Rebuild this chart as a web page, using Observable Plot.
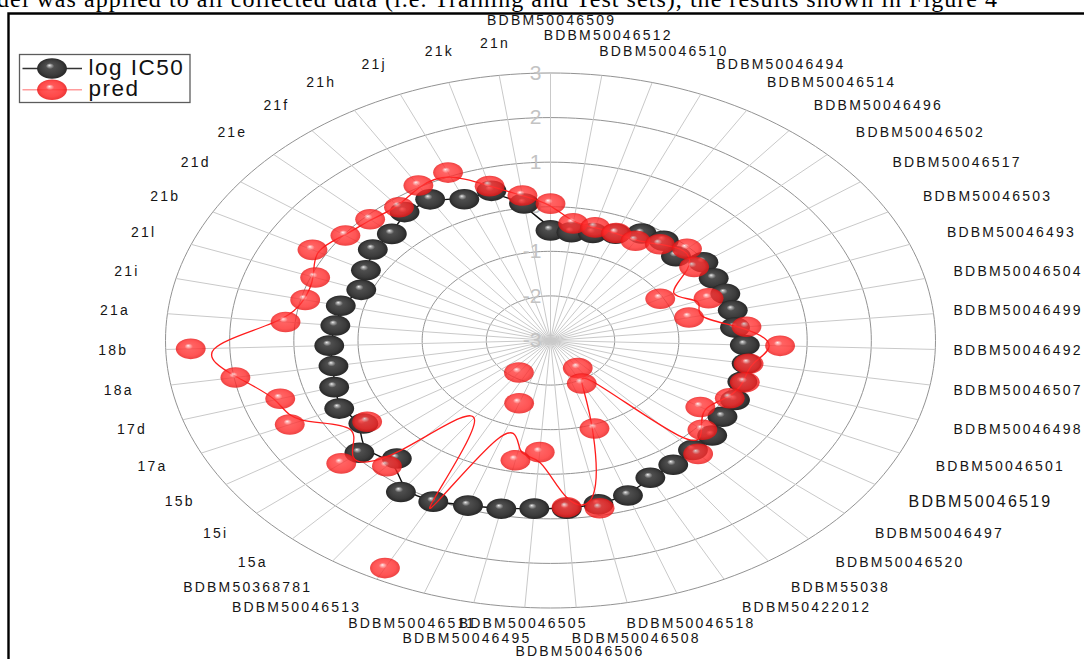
<!DOCTYPE html>
<html>
<head>
<meta charset="utf-8">
<script src="https://cdn.jsdelivr.net/npm/d3@7"></script>
<script src="https://cdn.jsdelivr.net/npm/@observablehq/plot@0.6"></script>
<style>
  html, body { margin: 0; padding: 0; background: #fff; }
  #wrap { position: relative; width: 1084px; height: 659px; overflow: hidden; background: #fff; }
  #chart svg { position: absolute; left: 0; top: 0; }
  #overlay { position: absolute; left: 0; top: 0; pointer-events: none; }
</style>
</head>
<body>
<div id="wrap"><div id="chart"></div><svg id="overlay" width="1084" height="659"></svg></div>
<script>
// Compounds, clockwise from the top of the radar
const compounds = [
  "BDBM50046509", "BDBM50046512", "BDBM50046510", "BDBM50046494", "BDBM50046514",
  "BDBM50046496", "BDBM50046502", "BDBM50046517", "BDBM50046503", "BDBM50046493",
  "BDBM50046504", "BDBM50046499", "BDBM50046492", "BDBM50046507", "BDBM50046498",
  "BDBM50046501", "BDBM50046519", "BDBM50046497", "BDBM50046520", "BDBM55038",
  "BDBM50422012", "BDBM50046518", "BDBM50046508", "BDBM50046506", "BDBM50046505",
  "BDBM50046495", "BDBM50046511", "BDBM50046513", "BDBM50368781", "15a",
  "15i", "15b", "17a", "17d", "18a",
  "18b", "21a", "21i", "21l", "21b",
  "21d", "21e", "21f", "21h", "21j",
  "21k", "21n"
];

// Experimental activity
const logIC50 = [
  -0.53, -0.55, -0.50, -0.40, -0.21, -0.15, -0.28, -0.04, -0.10, -0.08,
  -0.08, -0.11, 0.03, 0.10, 0.13, 0.17, 0.18, 0.30, 0.31, 0.38,
  0.45, 0.68, 0.75, 0.78, 0.78, 0.85, 0.92, 1.05, 1.12, 0.57,
  0.90, 0.46, 0.63, 0.53, 0.43, 0.45, 0.37, 0.36, 0.16, 0.28,
  0.44, 0.44, 0.67, 0.68, 0.44, 0.48, 0.10
];

// Model prediction
const pred = [
  0.07, -0.35, -0.37, -0.38, -0.40, -0.25, -0.04, -0.22, -1.05, -0.36,
  -0.78, 0.07, 0.58, 0.13, 0.17, 0.08, -0.23, 0.10, 0.43, -2.25,
  -1.92, -0.91, 0.84, 0.75, -0.49, -0.26, -1.51, 2.72, -2.13, 0.80,
  1.27, 0.39, 1.48, 1.41, 1.98, 2.61, 1.15, 0.93, 0.93, 1.23,
  0.97, 0.91, 0.81, 1.04, 1.09, 0.59, 0.28
];

const radialTicks = [3, 2, 1, 0, -1, -2, -3];
const seriesNames = ["log IC50", "pred"];

// ---- geometry: value -3 sits at the centre, value 3 on the outer ring
const N = compounds.length;
const OFFSET = 3, RMAX = 6;
const W = 1084, H = 659;
const CX = 550, CY = 340, RX = 385, RY = 267.5;
const KX = RX / RMAX, KY = RY / RMAX;
const angle = i => (2 * Math.PI * i) / N;
const toXY = (v, i) => ({x: (v + OFFSET) * Math.sin(angle(i)), y: (v + OFFSET) * Math.cos(angle(i))});

const obs = compounds.map((name, i) => ({name, value: logIC50[i], ...toXY(logIC50[i], i)}));
const prd = compounds.map((name, i) => ({name, value: pred[i], ...toXY(pred[i], i)}));

// rings, one per radial tick above the centre
const rings = [];
for (const t of radialTicks) {
  const r = t + OFFSET;
  if (r <= 0) continue;
  for (let k = 0; k < 240; k++) {
    const a = (2 * Math.PI * k) / 240;
    rings.push({ring: t, x: r * Math.sin(a), y: r * Math.cos(a)});
  }
}

const spokes = compounds.map((name, i) => ({name, x2: RMAX * Math.sin(angle(i)), y2: RMAX * Math.cos(angle(i))}));

// ---- compound labels around the rim, nudged apart where they would collide
const FONT = "'Liberation Sans', Arial, Helvetica, sans-serif";
const LABEL_RX = 6.62, LABEL_RY = 6.72, LS = 2.2;
const labelSize = name => name === "BDBM50046519" ? 16 : 14;
const mctx = document.createElement("canvas").getContext("2d");
const measure = (s, size) => { mctx.font = `${size}px ${FONT}`; return mctx.measureText(s).width + LS * (s.length - 1); };

// side labels first, then the crowded ones near the top and bottom
const order = d3.range(N).sort((a, b) => Math.abs(Math.sin(angle(b))) - Math.abs(Math.sin(angle(a))) || a - b);
const placed = [];
const labels = [];
for (const i of order) {
  const a = angle(i), s = Math.sin(a), c = Math.cos(a);
  const name = compounds[i], size = labelSize(name);
  const anchor = Math.abs(s) < 0.35 ? "middle" : s > 0 ? "start" : "end";
  const w = measure(name, size);
  let bx = CX + LABEL_RX * KX * s;
  const by = CY - LABEL_RY * KY * c;
  // keep the label inside the page
  const over = (anchor === "start" ? bx + w : anchor === "middle" ? bx + w / 2 : bx) - (W - 4);
  if (over > 0) bx -= over;
  const x0 = anchor === "start" ? bx : anchor === "end" ? bx - w : bx - w / 2;
  const out = c >= 0 ? -1 : 1;
  let dy = 0;
  for (const t of [0, 4, 8, 12, 16, 20, 24, -4, -8, -12, -16, -20, -24]) {
    const yy = by + out * t;
    const hit = placed.some(p => x0 + 8 < p.x1 - 8 && x0 + w - 8 > p.x0 + 8 && Math.abs(yy - p.y) < 12.5);
    if (!hit) { dy = out * t; break; }
  }
  placed.push({x0, x1: x0 + w, y: by + dy});
  // letter-spacing leaves a trailing gap after the last glyph; shift so the anchor sits on the glyphs
  const shift = anchor === "end" ? LS : anchor === "middle" ? LS / 2 : 0;
  labels.push({name, size, anchor, x: (bx - CX + shift) / KX, y: LABEL_RY * c - dy / KY});
}

// ---- ball-shaped marker (an ellipse, as the plot area is wider than tall)
const ASPECT = 1.45;
const ball = {
  draw(context, size) {
    const ry = Math.sqrt(size / Math.PI), rx = ry * ASPECT, k = 0.5523;
    context.moveTo(rx, 0);
    context.bezierCurveTo(rx, ry * k, rx * k, ry, 0, ry);
    context.bezierCurveTo(-rx * k, ry, -rx, ry * k, -rx, 0);
    context.bezierCurveTo(-rx, -ry * k, -rx * k, -ry, 0, -ry);
    context.bezierCurveTo(rx * k, -ry, rx, -ry * k, rx, 0);
    context.closePath();
  }
};
const BALL_R = 10.3;

const textMark = anchor => Plot.text(labels.filter(d => d.anchor === anchor), {
  x: "x", y: "y", text: "name", textAnchor: anchor, fontSize: "size",
  fontFamily: FONT, fill: "#151515"
});

const svg = Plot.plot({
  width: W,
  height: H,
  margin: 0,
  style: {background: "transparent", overflow: "visible"},
  x: {domain: [-RMAX, RMAX], range: [CX - RX, CX + RX], axis: null},
  y: {domain: [-RMAX, RMAX], range: [CY + RY, CY - RY], axis: null},
  marks: [
    Plot.line(rings, {x: "x", y: "y", z: "ring", curve: "linear-closed", stroke: "#939393", strokeWidth: 1}),
    Plot.link(spokes, {x1: () => 0, y1: () => 0, x2: "x2", y2: "y2", stroke: "#c9c9c9", strokeWidth: 1}),
    Plot.text(radialTicks, {
      x: () => 0, y: d => d + OFFSET, text: d => String(d), textAnchor: "end", dx: -9,
      fontSize: 21, fontFamily: FONT, fill: "#c3c3c3"
    }),
    textMark("start"),
    textMark("middle"),
    textMark("end"),
    Plot.line(obs, {x: "x", y: "y", curve: "basis-closed", stroke: "#101010", strokeWidth: 1.4}),
    Plot.dot(obs, {x: "x", y: "y", r: BALL_R, symbol: ball, fill: "url(#ballBlack)", stroke: "none"}),
    Plot.line(prd, {x: "x", y: "y", curve: "basis-closed", stroke: "#ff1c1c", strokeWidth: 1.3}),
    Plot.dot(prd, {x: "x", y: "y", r: BALL_R, symbol: ball, fill: "url(#ballRed)", fillOpacity: 0.8, stroke: "none"})
  ]
});

// shaded sphere fills
const root = d3.select(svg);
const defs = root.insert("defs", ":first-child");
function sphere(id, stops) {
  const g = defs.append("radialGradient").attr("id", id)
    .attr("cx", 0.5).attr("cy", 0.5).attr("r", 0.5).attr("fx", 0.41).attr("fy", 0.34);
  for (const [o, c] of stops) g.append("stop").attr("offset", o).attr("stop-color", c);
}
sphere("ballBlack", [[0, "#f2f2f2"], [0.09, "#b4b4b4"], [0.28, "#4e4e4e"], [0.75, "#3b3b3b"], [1, "#272727"]]);
sphere("ballRed", [[0, "#fff2f2"], [0.09, "#ffadad"], [0.28, "#ff3c3c"], [0.75, "#ff2a2a"], [1, "#e81414"]]);

// widen the compound labels
const compoundSet = new Set(compounds);
root.selectAll("text").filter(function () { return compoundSet.has(this.textContent); })
  .style("letter-spacing", LS + "px");

// legend
const legend = root.append("g").attr("font-family", FONT).attr("text-anchor", "start");
legend.append("rect").attr("x", 19.5).attr("y", 54.5).attr("width", 170.5).attr("height", 48)
  .attr("fill", "#fff").attr("stroke", "#5c5c5c").attr("stroke-width", 1.3);
const legendStyle = [
  {line: "#333", fill: "url(#ballBlack)", opacity: 1},
  {line: "#ff9c9c", fill: "url(#ballRed)", opacity: 0.85}
];
const ballPath = d3.symbol(ball, Math.PI * BALL_R * BALL_R)();
seriesNames.forEach((name, k) => {
  const y = 68.5 + k * 21.2;
  const st = legendStyle[k];
  legend.append("line").attr("x1", 22.5).attr("x2", 82).attr("y1", y).attr("y2", y)
    .attr("stroke", st.line).attr("stroke-width", 1.6);
  legend.append("path").attr("d", ballPath).attr("transform", `translate(52,${y})`)
    .attr("fill", st.fill).attr("fill-opacity", st.opacity);
  legend.append("text").attr("x", 88.5).attr("y", y + 6).attr("font-size", 22.5)
    .attr("text-anchor", "start").attr("letter-spacing", "1.5px").attr("fill", "#111").text(name);
});

document.getElementById("chart").appendChild(svg);

// page frame and the line of running text above it
const ov = d3.select("#overlay");
ov.append("path").attr("d", "M8.5,659V13.5H1084").attr("fill", "none").attr("stroke", "#000").attr("stroke-width", 2.4);
ov.append("text").attr("x", -3).attr("y", 7).attr("font-family", "'Liberation Serif', 'Times New Roman', serif")
  .attr("font-size", 24).attr("textLength", 1000).attr("fill", "#000")
  .text("del was applied to all collected data (i.e. Training and Test sets), the results shown in Figure 4");
</script>
</body>
</html>
